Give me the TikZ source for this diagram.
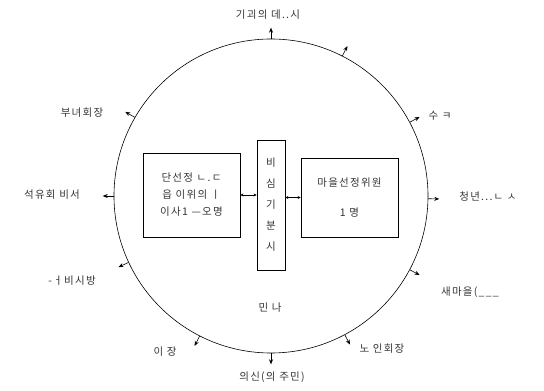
\documentclass[tikz,border=0pt]{standalone}
\usepackage{fontspec}
\newfontfamily\kr[LetterSpace=12]{Noto Sans CJK KR}
\usetikzlibrary{arrows.meta,calc}
\begin{document}
\begin{tikzpicture}[x=1pt,y=1pt,
  lbl/.style={font=\kr\fontsize{10.5}{12}\selectfont, text=black!80, inner sep=1pt},
  boxtxt/.style={font=\kr\fontsize{10.5}{17}\selectfont, text=black!80},
  ibox/.style={draw, line width=0.8pt, align=center, inner sep=0pt},
  outarrow/.style={-{Stealth[length=5pt,width=4pt]}, line width=0.6pt},
  dbl/.style={{Stealth[length=3pt,width=3pt]}-{Stealth[length=3pt,width=3pt]}, line width=0.5pt}]
\useasboundingbox (0,0) rectangle (544,391);
\node[circle, draw, line width=0.6pt, minimum size=314pt, inner sep=0pt] (c) at (271,195) {};
% inner boxes
\node[ibox, boxtxt, minimum width=97pt, minimum height=84pt] (lb) at (191.5,196) {단선정 ㄴ.ㄷ\\읍 이위의 ㅣ\\이사1 —오명};
\node[ibox, boxtxt, font=\kr\fontsize{10.5}{21}\selectfont, minimum width=28pt, minimum height=130pt] (mb) at (271,186) {비\\심\\기\\분\\시};
\node[ibox, boxtxt, font=\kr\fontsize{10.5}{30}\selectfont, minimum width=97pt, minimum height=79pt] (rb) at (349.5,193.5) {마을선정위원\\1 명};
\draw[dbl] (lb.east) -- (mb.west |- lb.east);
\draw[dbl] (mb.east |- rb.west) -- (rb.west);
\node[lbl] (in) at (270,83) {민 나};
% outer labels
\node[lbl] (t) at (268,376) {기괴의 데..시};
\node[lbl] (ur) at (440,275) {수 ㅋ};
\node[lbl] (r) at (488,194) {청년...ㄴ ㅅ};
\node[lbl] (rl) at (470,99) {새마을(\_\_\_};
\node[lbl] (br) at (382,42) {노 인회장};
\node[lbl] (b) at (272,14) {의신(의 주민)};
\node[lbl] (bl) at (165,39) {이 장};
\node[lbl] (ll) at (72,110) {-ㅓ비시방};
\node[lbl] (l) at (52,196) {석유회 비서};
\node[lbl] (ul) at (82,278) {부녀회장};
% arrows
\foreach \a in {90,63,28,-1,-28,-62,-90,-117,205,180,150}
  \draw[outarrow] (c.\a) -- ($(c.\a)+(\a:11)$);
\end{tikzpicture}
\end{document}
